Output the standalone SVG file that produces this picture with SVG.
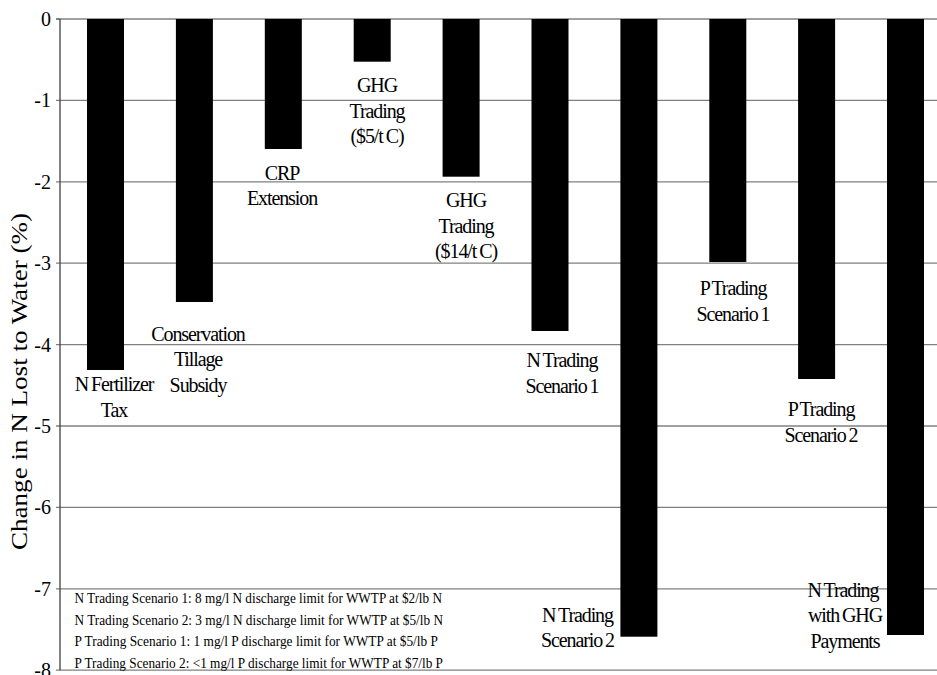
<svg xmlns="http://www.w3.org/2000/svg" width="937" height="675" viewBox="0 0 937 675">
<style>
.grid{stroke:#808080;stroke-width:1.3;fill:none}
.axis{stroke:#404040;stroke-width:1.3;fill:none}
.bar{fill:#000}
.tick{font-family:"Liberation Serif","Times New Roman",serif;font-size:20px;fill:#000;text-anchor:end}
.lbl{font-family:"Liberation Serif","Times New Roman",serif;font-size:20px;fill:#000;text-anchor:middle;letter-spacing:-1.1px;word-spacing:-1px}
.leg{font-family:"Liberation Serif","Times New Roman",serif;font-size:15.5px;fill:#000}
.title{font-family:"Liberation Serif","Times New Roman",serif;font-size:24px;fill:#000;text-anchor:middle}
</style>
<rect width="937" height="675" fill="#fff"/>
<g id="gridlines">
<line class="grid" x1="60" y1="19" x2="937" y2="19"/>
<line class="grid" x1="56" y1="100.4" x2="937" y2="100.4"/>
<line class="grid" x1="56" y1="181.8" x2="937" y2="181.8"/>
<line class="grid" x1="56" y1="263.2" x2="937" y2="263.2"/>
<line class="grid" x1="56" y1="344.6" x2="937" y2="344.6"/>
<line class="grid" x1="56" y1="426" x2="937" y2="426"/>
<line class="grid" x1="56" y1="507.4" x2="937" y2="507.4"/>
<line class="grid" x1="56" y1="588.8" x2="937" y2="588.8"/>
<line class="grid" x1="56" y1="670.2" x2="937" y2="670.2"/>
<line class="axis" x1="56" y1="19" x2="60" y2="19"/>
<line class="axis" x1="60" y1="19" x2="60" y2="670.2"/>
</g>
<g id="ticklabels">
<text class="tick" x="51" y="26">0</text>
<text class="tick" x="51" y="107.4">-1</text>
<text class="tick" x="51" y="188.8">-2</text>
<text class="tick" x="51" y="270.2">-3</text>
<text class="tick" x="51" y="351.6">-4</text>
<text class="tick" x="51" y="433">-5</text>
<text class="tick" x="51" y="514.4">-6</text>
<text class="tick" x="51" y="595.8">-7</text>
<text class="tick" x="51" y="677.2">-8</text>
</g>
<g id="ytitle" transform="translate(26.5,381.5) rotate(-90)">
<text class="title" x="0" y="0" textLength="337" lengthAdjust="spacingAndGlyphs">Change in N Lost to Water (%)</text>
</g>
<g id="connectors"></g>
<g id="bar-n-fertilizer-tax">
<rect class="bar" x="87" y="19" width="37" height="351"/>
<text class="lbl" x="114" y="391">N Fertilizer</text>
<text class="lbl" x="114" y="417">Tax</text>
</g>
<g id="bar-conservation-tillage">
<rect class="bar" x="175.9" y="19" width="37" height="283"/>
<text class="lbl" x="198" y="341">Conservation</text>
<text class="lbl" x="198" y="366">Tillage</text>
<text class="lbl" x="198" y="392">Subsidy</text>
</g>
<g id="bar-crp-extension">
<rect class="bar" x="264.8" y="19" width="37" height="130"/>
<text class="lbl" x="282" y="180">CRP</text>
<text class="lbl" x="282" y="205">Extension</text>
</g>
<g id="bar-ghg-5">
<rect class="bar" x="353.7" y="19" width="37" height="42.7"/>
<text class="lbl" x="377" y="92">GHG</text>
<text class="lbl" x="377" y="117.5">Trading</text>
<text class="lbl" x="377" y="143">($5/t C)</text>
</g>
<g id="bar-ghg-14">
<rect class="bar" x="442.6" y="19" width="37" height="157.7"/>
<text class="lbl" x="466" y="207">GHG</text>
<text class="lbl" x="466" y="232.5">Trading</text>
<text class="lbl" x="466" y="258">($14/t C)</text>
</g>
<g id="bar-n-trading-1">
<rect class="bar" x="531.5" y="19" width="37" height="312"/>
<text class="lbl" x="562" y="367">N Trading</text>
<text class="lbl" x="562" y="393">Scenario 1</text>
</g>
<g id="bar-n-trading-2">
<rect class="bar" x="620.4" y="19" width="37" height="617.7"/>
<text class="lbl" x="577.5" y="621.5">N Trading</text>
<text class="lbl" x="577.5" y="647">Scenario 2</text>
</g>
<g id="bar-p-trading-1">
<rect class="bar" x="709.3" y="19" width="37" height="243"/>
<text class="lbl" x="733" y="295">P Trading</text>
<text class="lbl" x="733" y="321">Scenario 1</text>
</g>
<g id="bar-p-trading-2">
<rect class="bar" x="798.1" y="19" width="37" height="360"/>
<text class="lbl" x="821" y="415.7">P Trading</text>
<text class="lbl" x="821" y="441.7">Scenario 2</text>
</g>
<g id="bar-n-trading-ghg">
<rect class="bar" x="887" y="19" width="37" height="616"/>
<text class="lbl" x="843" y="597">N Trading</text>
<text class="lbl" x="845" y="622">with GHG</text>
<text class="lbl" x="845" y="647.5">Payments</text>
</g>
<g id="legend">
<text class="leg" x="74.5" y="603" textLength="367.5" lengthAdjust="spacingAndGlyphs">N Trading Scenario 1: 8 mg/l N discharge limit for WWTP at $2/lb N</text>
<text class="leg" x="74.5" y="624.5" textLength="368.5" lengthAdjust="spacingAndGlyphs">N Trading Scenario 2: 3 mg/l N discharge limit for WWTP at $5/lb N</text>
<text class="leg" x="74.5" y="646" textLength="363.5" lengthAdjust="spacingAndGlyphs">P Trading Scenario 1: 1 mg/l P discharge limit for WWTP at $5/lb P</text>
<text class="leg" x="74.5" y="667.5" textLength="368.5" lengthAdjust="spacingAndGlyphs">P Trading Scenario 2: &lt;1 mg/l P discharge limit for WWTP at $7/lb P</text>
</g>
</svg>
